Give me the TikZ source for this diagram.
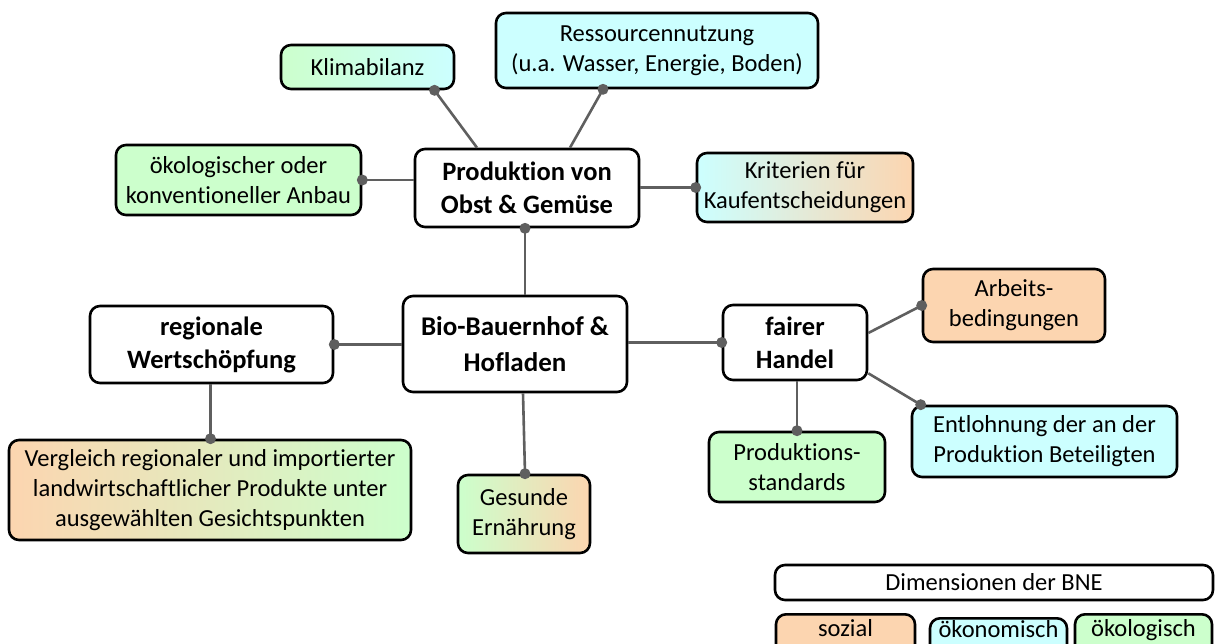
\documentclass[tikz,border=0pt]{standalone}
\usepackage{fontspec}
\setmainfont[Ligatures=NoCommon]{Carlito}
\usetikzlibrary{calc}
\definecolor{soz}{HTML}{FCD5B0}
\definecolor{oek}{HTML}{CCFFFF}
\definecolor{eco}{HTML}{CCFFCC}
\definecolor{conn}{HTML}{5F5F5F}
\tikzset{
  box/.style={draw=black, line width=2.6pt, rounded corners=10pt, align=center, inner sep=0pt, fill=white,
    font=\fontsize{24.5}{30}\selectfont},
  bbox/.style={box, font=\fontsize{26.5}{33}\selectfont\bfseries},
  conline/.style={draw=conn, line width=2.6pt}
}
\newcommand{\dotat}[1]{\fill[conn] #1 circle (5.5pt);}
\begin{document}
\begin{tikzpicture}[x=1pt,y=-1pt]
\useasboundingbox (0,0) rectangle (1216,643);
\clip (0,0) rectangle (1216,643);
% nodes
\node[box, left color=eco, right color=oek, minimum width=173, minimum height=44] (klima) at (367.5,67) {Klimabilanz};
\node[box, fill=oek, minimum width=322, minimum height=75] (ress) at (657,50.5) {Ressourcennutzung\\(u.a. Wasser, Energie, Boden)};
\node[box, fill=eco, minimum width=245, minimum height=70] (anbau) at (238.5,180) {ökologischer oder\\konventioneller Anbau};
\node[bbox, minimum width=224, minimum height=78] (prod) at (527,188) {Produktion von\\Obst \& Gemüse};
\node[box, left color=oek, middle color=eco, right color=soz, minimum width=216, minimum height=69] (krit) at (805,187.5) {Kriterien für\\Kaufentscheidungen};
\node[bbox, font=\fontsize{27}{36}\selectfont\bfseries, minimum width=224, minimum height=96] (bio) at (515,344) {Bio-Bauernhof \&\\Hofladen};
\node[bbox, minimum width=243, minimum height=77] (reg) at (211.5,344.5) {regionale\\Wertschöpfung};
\node[bbox, minimum width=144, minimum height=75] (fair) at (795,342.5) {fairer\\Handel};
\node[box, fill=soz, minimum width=182, minimum height=73] (arb) at (1014,305.5) {Arbeits-\\bedingungen};
\node[box, fill=oek, minimum width=265, minimum height=71] (entl) at (1044.5,441.5) {Entlohnung der an der\\Produktion Beteiligten};
\node[box, fill=eco, minimum width=176, minimum height=70] (pstd) at (797,467) {Produktions-\\standards};
\node[box, left color=eco, right color=soz, minimum width=132, minimum height=78] (ges) at (524,514) {Gesunde\\Ernährung};
\node[box, left color=soz, middle color=oek, right color=eco, minimum width=402, minimum height=100] (verg) at (210,490) {Vergleich regionaler und importierter\\landwirtschaftlicher Produkte unter\\ausgewählten Gesichtspunkten};
% legend
\node[box, minimum width=438, minimum height=35] (dim) at (994,582.5) {Dimensionen der BNE};
\node[box, fill=soz, anchor=north, minimum width=139, text height=18pt, text depth=40pt, inner ysep=4pt] (soz) at (845.5,613) {sozial};
\node[box, fill=oek, anchor=north, minimum width=137, text height=15.5pt, text depth=40pt, inner ysep=4pt] (oekn) at (998.5,617) {ökonomisch};
\node[box, fill=eco, anchor=north, minimum width=137, text height=18pt, text depth=40pt, inner ysep=4pt] (ecol) at (1143.5,613) {ökologisch};
% connectors
\draw[conline] ([xshift=67pt]klima.south) -- ([xshift=-50pt]prod.north);
\dotat{([xshift=67pt]klima.south)}
\draw[conline] ([xshift=-54pt]ress.south) -- ([xshift=43pt]prod.north);
\dotat{([xshift=-54pt]ress.south)}
\draw[conline] (anbau.east) -- (prod.west |- anbau.east);
\dotat{(anbau.east)}
\draw[conline] (prod.east |- krit.west) -- (krit.west);
\dotat{(krit.west)}
\draw[conline] ([xshift=-2pt]prod.south) -- ([xshift=-2pt]prod.south |- bio.north);
\dotat{([xshift=-2pt]prod.south)}
\draw[conline] (reg.east) -- (bio.west |- reg.east);
\dotat{(reg.east)}
\draw[conline] (bio.east |- fair.west) -- (fair.west);
\dotat{(fair.west)}
\draw[conline] ([yshift=9.5pt]fair.east) -- (arb.west);
\dotat{(arb.west)}
\draw[conline] ([yshift=8pt]fair.south east) -- ([xshift=10pt]entl.north west);
\dotat{([xshift=10pt]entl.north west)}
\draw[conline] (fair.south -| pstd.north) -- (pstd.north);
\dotat{(pstd.north)}
\draw[conline] ([xshift=-1pt]ges.north |- bio.south) -- ([xshift=1pt]ges.north);
\dotat{([xshift=1pt]ges.north)}
\draw[conline] ([xshift=-1pt]reg.south) -- ([xshift=-1pt]reg.south |- verg.north);
\dotat{([xshift=-1pt]reg.south |- verg.north)}
\end{tikzpicture}
\end{document}
